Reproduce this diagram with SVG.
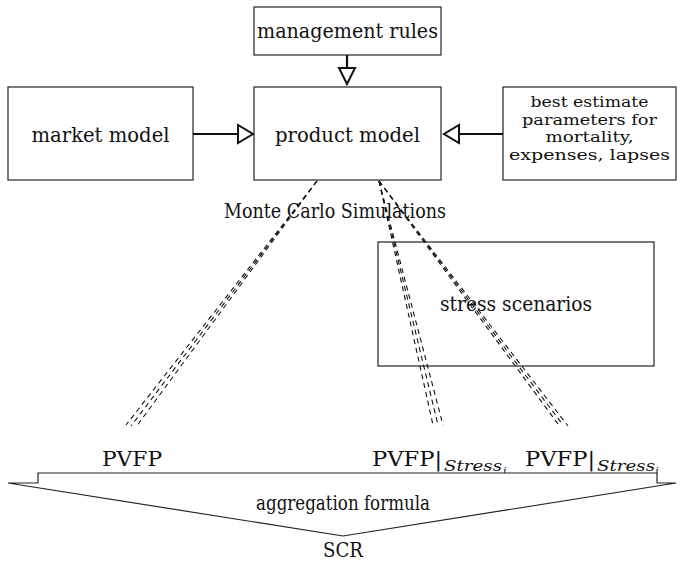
<svg xmlns="http://www.w3.org/2000/svg" width="682" height="565" viewBox="0 0 682 565">
<style>
.box{fill:#fff;stroke:#222;stroke-width:1.2}
.t{font-family:'DejaVu Serif',serif;font-size:20px;fill:#111;text-anchor:middle}
.s{font-size:15px}
.ti{font-family:'DejaVu Serif',serif;font-size:15px;font-style:italic;fill:#111}
.arr{stroke:#111;stroke-width:2.2;fill:none}
.head{fill:#fff;stroke:#111;stroke-width:2}
.d{stroke:#111;stroke-width:1.1;stroke-dasharray:5 4;fill:none}
</style>
<rect width="682" height="565" fill="#fff"/>
<g id="management-rules">
<rect class="box" x="254" y="7" width="187" height="48"/>
<text class="t" x="347.5" y="38" textLength="181" lengthAdjust="spacingAndGlyphs">management rules</text>
</g>
<g id="market-model">
<rect class="box" x="8" y="87" width="185" height="93"/>
<text class="t" x="100.5" y="142" textLength="138" lengthAdjust="spacingAndGlyphs">market model</text>
</g>
<g id="product-model">
<rect class="box" x="254" y="87" width="187" height="93"/>
<text class="t" x="347.5" y="142" textLength="145" lengthAdjust="spacingAndGlyphs">product model</text>
</g>
<g id="best-estimate">
<rect class="box" x="503" y="87" width="173" height="93"/>
<text class="t s" x="589.5" y="107" textLength="118" lengthAdjust="spacingAndGlyphs">best estimate</text>
<text class="t s" x="589.5" y="124.5" textLength="135" lengthAdjust="spacingAndGlyphs">parameters for</text>
<text class="t s" x="589.5" y="142" textLength="88" lengthAdjust="spacingAndGlyphs">mortality,</text>
<text class="t s" x="589.5" y="159.5" textLength="161" lengthAdjust="spacingAndGlyphs">expenses, lapses</text>
</g>
<g id="stress-scenarios">
<rect class="box" x="378" y="242" width="276" height="124"/>
<text class="t" x="516" y="311" textLength="152" lengthAdjust="spacingAndGlyphs">stress scenarios</text>
</g>
<g id="monte-carlo">
<text class="t" x="335" y="218" textLength="222" lengthAdjust="spacingAndGlyphs">Monte Carlo Simulations</text>
</g>
<g id="connectors">
<path class="arr" d="M347,55 V68"/>
<polygon class="head" points="339,68 355,68 347,84"/>
<path class="arr" d="M193,134 H238"/>
<polygon class="head" points="238,125 238,143 253,134"/>
<path class="arr" d="M503,134 H459"/>
<polygon class="head" points="459,125 459,143 444,134"/>
<path class="d" d="M317,181 L126,425"/>
<path class="d" d="M317,181 L131,426"/>
<path class="d" d="M317,181 L136,427"/>
<path class="d" d="M379,181 L433,425"/>
<path class="d" d="M379,181 L438,425"/>
<path class="d" d="M379,181 L443,425"/>
<path class="d" d="M379,181 L558,424"/>
<path class="d" d="M379,181 L563,425"/>
<path class="d" d="M379,181 L568,426"/>
</g>
<g id="pvfp-labels">
<text class="t" x="132" y="466" textLength="60" lengthAdjust="spacingAndGlyphs">PVFP</text>
<text class="t" x="372" y="466" style="text-anchor:start" textLength="70" lengthAdjust="spacingAndGlyphs">PVFP|</text>
<text class="ti" x="444" y="471" textLength="58" lengthAdjust="spacingAndGlyphs">Stress</text>
<text class="ti" x="503" y="475" style="font-size:11px">i</text>
<text class="t" x="525" y="466" style="text-anchor:start" textLength="70" lengthAdjust="spacingAndGlyphs">PVFP|</text>
<text class="ti" x="597" y="471" textLength="58" lengthAdjust="spacingAndGlyphs">Stress</text>
<text class="ti" x="655" y="475" style="font-size:11px">j</text>
</g>
<g id="aggregation">
<path d="M8,483 H38 V473 H657 V483 H676 L343,536 Z" fill="#fff" stroke="#222" stroke-width="1.2" stroke-linejoin="miter"/>
<text class="t" x="343" y="510" textLength="174" lengthAdjust="spacingAndGlyphs">aggregation formula</text>
<text class="t" x="343" y="557" textLength="40" lengthAdjust="spacingAndGlyphs">SCR</text>
</g>
</svg>
